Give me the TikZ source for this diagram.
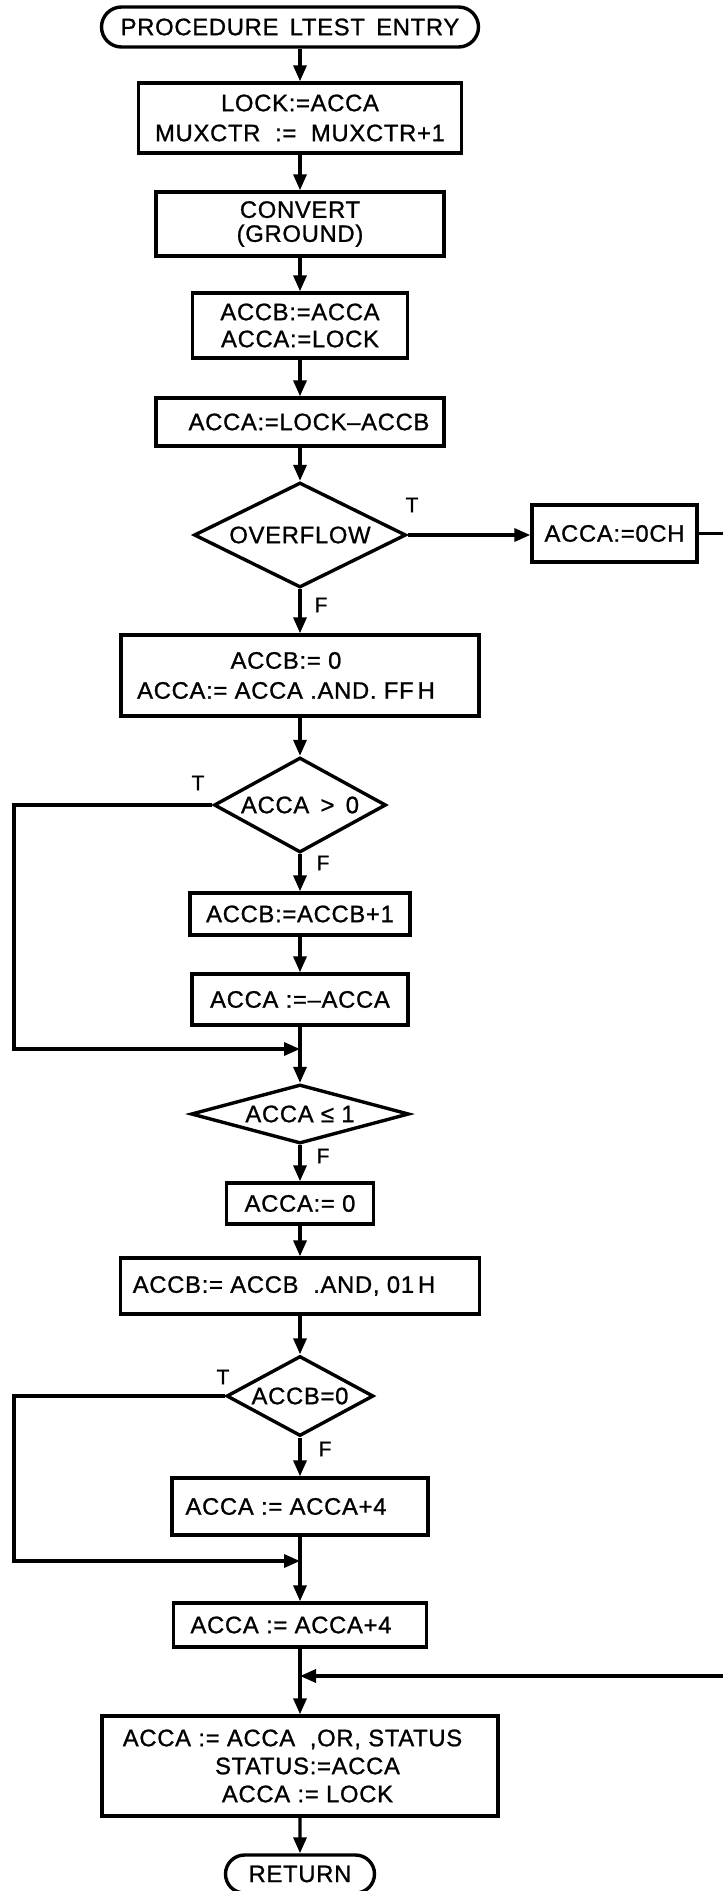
\documentclass[tikz,border=0pt]{standalone}
\usepackage{fontspec}
\newfontfamily\lettering{Liberation Sans}[LetterSpace=3,FakeBold=1]
\usetikzlibrary{shapes.geometric,shapes.misc,arrows.meta}
% shift one centred line sideways by half the given length
\newcommand{\nudgeline}[1]{\hspace*{#1}}

\begin{document}
\begin{tikzpicture}[x=0.5pt,y=-0.5pt,
  every node/.style={font=\lettering\fontsize{11.9}{14}\selectfont},
  proc/.style={draw, line width=1.7pt, rectangle, inner sep=0pt, align=center},
  term/.style={draw, line width=1.7pt, rounded rectangle, inner sep=0pt},
  decision/.style={draw, line width=1.7pt, diamond, inner sep=0pt},
  flow/.style={line width=1.7pt, -{Triangle[length=8pt,width=6.5pt]}},
  tf/.style={font=\lettering\fontsize{10.5}{12}\selectfont, inner sep=0pt}
]
\useasboundingbox (0,0) rectangle (723,1891);
\fill[white] (0,0) rectangle (723,1891);
\clip (0,0) rectangle (723,1891);

% main column
\node[term, minimum width=188.5pt, minimum height=20pt] (entry) at (290,27) {PROCEDURE \,LTEST \,ENTRY};
\node[proc, minimum width=161.5pt, minimum height=35pt] (b1) at (300,118) {LOCK:=ACCA\\[1pt]MUXCTR \ := \ MUXCTR+1};
\node[proc, minimum width=144pt, minimum height=32pt] (b2) at (300,224) {CONVERT\\[-2pt](GROUND)};
\node[proc, minimum width=107.5pt, minimum height=32.5pt] (b3) at (300,325.5) {ACCB:=ACCA\\[-0.5pt]ACCA:=LOCK};
\node[proc, minimum width=144pt, minimum height=24pt] (b4) at (300,422) {\nudgeline{9pt}ACCA:=LOCK–ACCB};
\node[decision, aspect=2, minimum width=106pt, minimum height=52.5pt] (d1) at (300,535) {OVERFLOW};
\node[proc, minimum width=82.5pt, minimum height=28.5pt] (och) at (614.5,533.5) {ACCA:=0CH};
\node[proc, minimum width=179pt, minimum height=40.5pt] (b5) at (300,675.5) {\nudgeline{-14pt}ACCB:= 0\\[1pt]\nudgeline{-14pt}ACCA:= ACCA .AND. FF\,H};
\node[decision, aspect=1.8, minimum width=86pt, minimum height=47.5pt] (d2) at (300,805) {ACCA \,>\, 0};
\node[proc, minimum width=110pt, minimum height=21pt] (b6) at (300,914) {ACCB:=ACCB+1};
\node[proc, minimum width=108pt, minimum height=25.5pt] (b7) at (300,999.5) {ACCA :=–ACCA};
\node[decision, aspect=3.7, minimum width=109pt, minimum height=29.5pt] (d3) at (300,1114) {ACCA ≤ 1};
\node[proc, minimum width=73.5pt, minimum height=20.5pt] (b8) at (300,1203.5) {ACCA:= 0};
\node[proc, minimum width=179.5pt, minimum height=28pt] (b9) at (300,1286) {\nudgeline{-16pt}ACCB:= ACCB \ .AND, 01\,H};
\node[decision, aspect=1.84, minimum width=73.5pt, minimum height=40pt] (d4) at (300,1396) {ACCB=0};
\node[proc, minimum width=128pt, minimum height=28.5pt] (b10) at (300,1506.5) {\nudgeline{-14pt}ACCA := ACCA+4};
\node[proc, minimum width=126.5pt, minimum height=22pt] (b11) at (300,1625) {\nudgeline{-9pt}ACCA := ACCA+4};
\node[proc, minimum width=198pt, minimum height=50pt] (b12) at (300,1766) {\nudgeline{-7.5pt}ACCA := ACCA \ ,OR, STATUS\\\nudgeline{7.5pt}STATUS:=ACCA\\\nudgeline{7.5pt}ACCA := LOCK};
\node[term, minimum width=74.5pt, minimum height=19pt] (ret) at (300,1874) {RETURN};

% junction points
\coordinate (m1) at (300,1049);
\coordinate (m2) at (300,1561);
\coordinate (m3) at (300,1676);
\coordinate (c1) at (14,1049);
\coordinate (c2) at (14,1561);
\coordinate (c3) at (740,1676);

% straight flow
\draw[flow] (entry.south -| b1.north) -- (b1.north);
\draw[flow] (b1) -- (b2);
\draw[flow] (b2) -- (b3);
\draw[flow] (b3) -- (b4);
\draw[flow] (b4) -- (d1);
\draw[flow] (d1) -- (b5);
\draw[flow] (b5) -- (d2);
\draw[flow] (d2) -- (b6);
\draw[flow] (b6) -- (b7);
\draw[flow] (b7) -- (d3);
\draw[flow] (d3) -- (b8);
\draw[flow] (b8) -- (b9);
\draw[flow] (b9) -- (d4);
\draw[flow] (d4) -- (b10);
\draw[flow] (b10) -- (b11);
\draw[flow] (b11) -- (b12);
\draw[flow] (b12) -- (ret);

% branches
\draw[flow] (d1.east) -- (d1.east -| och.west);
\draw[flow] (d2.west) -| (c1) -- (m1);
\draw[flow] (d4.west) -| (c2) -- (m2);
\draw[flow] (och.east) -| (c3) -- (m3);

% branch labels
\node[tf] (t1) at (412,505) {T};
\node[tf] (f1) at (321,605) {F};
\node[tf] (t2) at (198,783) {T};
\node[tf] (f2) at (323,863) {F};
\node[tf] (f3) at (323,1156) {F};
\node[tf] (t4) at (223,1377) {T};
\node[tf] (f4) at (325,1449) {F};
\end{tikzpicture}
\end{document}
